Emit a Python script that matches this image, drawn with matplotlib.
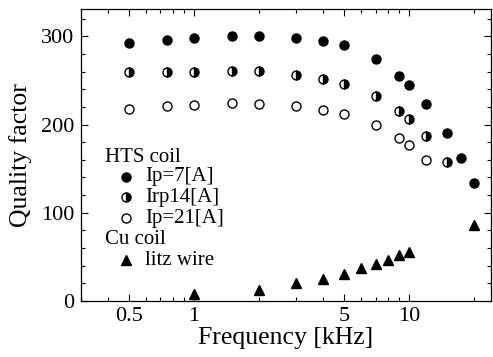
import matplotlib
matplotlib.use("Agg")
import matplotlib.pyplot as plt
from matplotlib.ticker import FixedLocator, NullFormatter, FixedFormatter, MultipleLocator

plt.rcParams['font.family'] = ['Liberation Serif', 'DejaVu Serif']

# frequency [kHz]
f_ip7 = [0.5, 0.75, 1, 1.5, 2, 3, 4, 5, 7, 9, 10, 12, 15, 17.5, 20]
q_ip7 = [293, 296, 298, 300, 300, 298, 295, 290, 274, 255, 245, 223, 190, 162, 134]

f_ip14 = [0.5, 0.75, 1, 1.5, 2, 3, 4, 5, 7, 9, 10, 12, 15]
q_ip14 = [260, 260, 260, 261, 261, 256, 252, 246, 232, 215, 206, 187, 158]

f_ip21 = [0.5, 0.75, 1, 1.5, 2, 3, 4, 5, 7, 9, 10, 12]
q_ip21 = [218, 221, 222, 224, 223, 221, 217, 212, 200, 185, 177, 160]

f_litz = [1, 2, 3, 4, 5, 6, 7, 8, 9, 10, 20]
q_litz = [8, 13, 20, 25, 31, 37, 42, 47, 52, 56, 86]

xmajor = [0.5, 1, 5, 10]
xmajor_labels = ['0.5', '1', '5', '10']
xminor = [0.3, 0.4, 0.6, 0.7, 0.8, 0.9, 2, 3, 4, 6, 7, 8, 9, 20]

fig = plt.figure(figsize=(4.93, 3.57), dpi=100)
ax = fig.add_axes([81/493, 56/357, 410/493, 292/357])

ms = 6.5
half = dict(ms=ms, mfc='black', mfcalt='white', mec='black', fillstyle='right', mew=1.0)
ax.plot(f_ip7, q_ip7, 'o', ls='none', ms=ms, mfc='black', mec='black')
ax.plot(f_ip14, q_ip14, 'o', ls='none', **half)
ax.plot(f_ip21, q_ip21, 'o', ls='none', ms=ms, mfc='white', mec='black', mew=1.0)
ax.plot(f_litz, q_litz, '^', ls='none', ms=7.5, mfc='black', mec='black')

ax.set_xscale('log')
ax.set_xlim(0.3, 24)
ax.set_ylim(0, 331)

ax.xaxis.set_major_locator(FixedLocator(xmajor))
ax.xaxis.set_major_formatter(FixedFormatter(xmajor_labels))
ax.xaxis.set_minor_locator(FixedLocator(xminor))
ax.xaxis.set_minor_formatter(NullFormatter())
ax.yaxis.set_major_locator(MultipleLocator(100))
ax.yaxis.set_minor_locator(MultipleLocator(20))

ax.tick_params(which='both', direction='in', top=True, right=True, labelsize=16, width=0.8)
ax.tick_params(which='major', length=5)
ax.tick_params(which='minor', length=3)
ax.tick_params(axis='y', pad=5)
ax.tick_params(axis='x', pad=4)
for s in ax.spines.values():
    s.set_linewidth(0.9)

ax.set_xlabel('Frequency [kHz]', fontsize=18.5, labelpad=1)
ax.set_ylabel('Quality factor', fontsize=18.5, labelpad=6)

# hand-made legend
tr = ax.transAxes
kx, tx, hx = 0.11, 0.156, 0.0585
ax.text(hx, 0.49, 'HTS coil', transform=tr, fontsize=15, va='center')
ax.plot([kx], [0.425], 'o', transform=tr, ms=ms, mfc='black', mec='black')
ax.text(tx, 0.425, 'Ip=7[A]', transform=tr, fontsize=15, va='center')
ax.plot([kx], [0.356], 'o', transform=tr, **half)
ax.text(tx, 0.356, 'Irp14[A]', transform=tr, fontsize=15, va='center')
ax.plot([kx], [0.284], 'o', transform=tr, ms=ms, mfc='white', mec='black', mew=1.0)
ax.text(tx, 0.284, 'Ip=21[A]', transform=tr, fontsize=15, va='center')
ax.text(hx, 0.209, 'Cu coil', transform=tr, fontsize=15, va='center')
ax.plot([kx], [0.14], '^', transform=tr, ms=7.5, mfc='black', mec='black')
ax.text(tx, 0.14, 'litz wire', transform=tr, fontsize=15, va='center')

fig.savefig('out.png', dpi=100)
